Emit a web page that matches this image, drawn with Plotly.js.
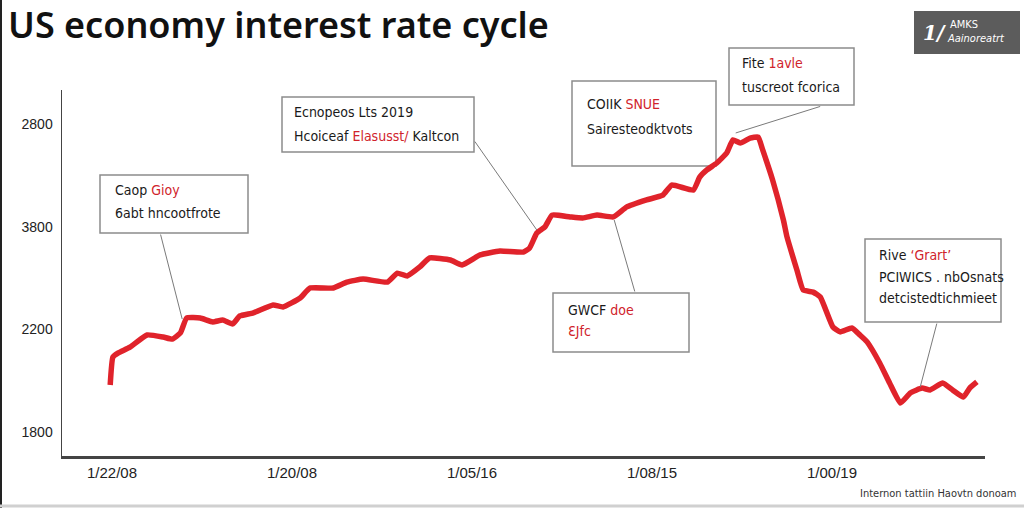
<!DOCTYPE html>
<html>
<head>
<meta charset="utf-8">
<script src="https://cdn.plot.ly/plotly-3.0.1.min.js"></script>
<style>html,body{margin:0;padding:0;background:#fff}#chart{width:1024px;height:508px}</style>
</head>
<body>
<div id="chart"></div>
<script>
// ---- data ----
const periods = [-0.2,0.1,0.7,2.0,3.9,5.7,6.7,7.6,8.3,9.8,11.2,12.3,13.4,14.2,15.7,17.9,19.0,20.9,22.0,24.6,26.1,27.9,30.6,31.7,32.8,34.2,35.3,37.6,38.9,40.9,43.1,45.7,46.4,47.2,48.1,48.9,50.9,52.3,53.9,55.7,57.2,59.4,61.2,62.2,64.6,65.3,66.1,67.2,68.3,69.0,69.8,70.9,71.8,72.3,73.4,74.6,75.0,76.1,76.8,77.9,78.7,80.1,80.9,82.2,83.1,83.9,85.3,86.4,87.6,88.7,90.0,90.9,92.3,93.4,94.6,95.3,96.1];
const rateValues = [1983,2092,2108,2131,2178,2170,2162,2186,2244,2244,2229,2236,2221,2252,2264,2295,2287,2322,2361,2361,2384,2396,2384,2419,2408,2443,2478,2470,2451,2490,2505,2501,2517,2575,2599,2645,2638,2634,2645,2638,2677,2704,2723,2762,2743,2793,2821,2848,2887,2938,2926,2945,2949,2899,2782,2626,2560,2431,2353,2345,2326,2209,2190,2205,2178,2151,2069,1991,1913,1952,1971,1964,1991,1964,1936,1971,1995];
const xTickVals = [0,20,40,60,80];
const xTickText = ["1/22/08","1/20/08","1/05/16","1/08/15","1/00/19"];
const yTickVals = [1800,2200,2600,3000];
const yTickText = ["1800","2200","3800","2800"];
const titleText = "US economy interest rate cycle";
const sourceText = "Internon tattiin Haovtn donoam";

// callout points on the line (period, value)
const calloutPts = [
  {x:7.8,  y:2240, ax:-22, ay:-86},
  {x:47.2, y:2587, ax:-63, ay:-90},
  {x:69.3, y:2965, ax:86,  ay:-27},
  {x:55.8, y:2626, ax:21,  ay:73},
  {x:89.8, y:1975, ax:17,  ay:-65}
];

// ---- layout helpers (pixel -> paper) ----
const L=62, R=985, T=90, B=456, W=R-L, H=B-T;
const px = v => (v-L)/W;
const py = v => (B-v)/H;
const RED = '#d0232b';
const red = s => '<span style="color:'+RED+'">'+s+'</span>';

const boxes = [
  {l:100, t:175, r:248, b:233, x:113, lines:[[190,'Caop '+red('Gioy')],[213,'6abt hncootfrote']]},
  {l:282, t:97,  r:474, b:152, x:292, lines:[[112,'Ecnopeos Lts 2019'],[136,'Hcoiceaf '+red('Elasusst/')+' Kaltcon']]},
  {l:572, t:81,  r:716, b:166, x:585, lines:[[104,'COIIK '+red('SNUE')],[129,'Sairesteodktvots']]},
  {l:729, t:48,  r:854, b:105, x:740, lines:[[63,'Fite '+red('1avle')],[87,'tuscreot fcorica']]},
  {l:553, t:293, r:689, b:352, x:566, lines:[[310,'GWCF '+red('doe')],[331,red('ƐJfc')]]},
  {l:865, t:239, r:1001,b:322, x:877, lines:[[255,'Rive '+red('‘Grart’')],[277,'PCIWICS . nbOsnats'],[298,'detcistedtichmieet']]}
];

const shapes = [];
const annotations = [];
const boxFont = {family:'Liberation Sans Narrow, DejaVu Sans Condensed, sans-serif', size:14, color:'#1a1a1a'};

boxes.forEach(b => {
  shapes.push({type:'rect', xref:'paper', yref:'paper', x0:px(b.l), x1:px(b.r), y0:py(b.b), y1:py(b.t),
    line:{color:'#8c8c8c', width:1.5}, fillcolor:'#ffffff', layer:'below'});
  b.lines.forEach(([yy, txt]) => {
    annotations.push({xref:'paper', yref:'paper', x:px(b.x), y:py(yy), xanchor:'left', yanchor:'middle',
      text:txt, showarrow:false, font:boxFont, align:'left'});
  });
});

calloutPts.forEach(c => {
  annotations.push({xref:'x', yref:'y', x:c.x, y:c.y, text:'', showarrow:true, arrowhead:0,
    arrowwidth:1, arrowcolor:'#7a7a7a', ax:c.ax, ay:c.ay, standoff:0, startstandoff:0});
});

// logo block
shapes.push({type:'rect', xref:'paper', yref:'paper', x0:px(914), x1:px(1020), y0:py(54), y1:py(11),
  line:{width:0}, fillcolor:'#5c5c5c', layer:'above'});
annotations.push({xref:'paper', yref:'paper', x:px(934), y:py(33), xanchor:'center', yanchor:'middle', text:'<i><b>1/</b></i>', showarrow:false,
  font:{family:'DejaVu Serif', size:20, color:'#ffffff'}});
annotations.push({xref:'paper', yref:'paper', x:px(948), y:py(24), xanchor:'left', yanchor:'middle', text:'AMKS', showarrow:false,
  font:{family:'Liberation Sans Narrow, DejaVu Sans Condensed, sans-serif', size:11, color:'#ffffff'}});
annotations.push({xref:'paper', yref:'paper', x:px(945), y:py(38), xanchor:'left', yanchor:'middle', text:'<i>Aainoreatrt</i>', showarrow:false,
  font:{family:'Liberation Sans Narrow, DejaVu Sans Condensed, sans-serif', size:11, color:'#ffffff'}});
// source
annotations.push({xref:'paper', yref:'paper', x:px(1018), y:py(494), xanchor:'right', yanchor:'middle', text:sourceText,
  showarrow:false, font:{family:'DejaVu Sans Condensed, sans-serif', size:11, color:'#333333'}});

// frame edges
shapes.push({type:'line', xref:'paper', yref:'paper', x0:px(1), x1:px(1), y0:py(508), y1:py(0), line:{color:'#222', width:2}, layer:'above'});
shapes.push({type:'line', xref:'paper', yref:'paper', x0:px(0), x1:px(1024), y0:py(506), y1:py(506), line:{color:'#d0d0d0', width:3}, layer:'above'});

const trace = {
  x: periods, y: rateValues, type:'scatter', mode:'lines',
  line:{color:'#e0232b', width:5.5, shape:'spline', smoothing:0.4},
  hoverinfo:'skip'
};

const layout = {
  width:1024, height:508,
  paper_bgcolor:'#ffffff', plot_bgcolor:'#ffffff',
  margin:{l:L, r:1024-R, t:T, b:508-B},
  showlegend:false,
  title:{text:titleText, xref:'container', yref:'container', x:8/1024, xanchor:'left', y:1-25/508, yanchor:'middle',
    font:{family:'Noto Sans, sans-serif', size:36, color:'#111111', weight:600}},
  xaxis:{range:[(L-112)/9, (R-112)/9], tickvals:xTickVals, ticktext:xTickText, showgrid:false, zeroline:false,
    showline:true, linecolor:'#444444', linewidth:2.5, ticks:'', ticklabelstandoff:1,
    tickfont:{family:'Liberation Sans, sans-serif', size:15, color:'#222222'}},
  yaxis:{range:[1800+(432-B)*3.896, 1800+(432-T)*3.896], tickvals:yTickVals, ticktext:yTickText, showgrid:false, zeroline:false,
    showline:true, linecolor:'#444444', linewidth:1.5, ticks:'', ticklabelstandoff:5,
    tickfont:{family:'Liberation Sans, sans-serif', size:14, color:'#222222'}},
  shapes:shapes,
  annotations:annotations
};

Plotly.newPlot('chart', [trace], layout, {displayModeBar:false, staticPlot:true});
</script>
</body>
</html>
